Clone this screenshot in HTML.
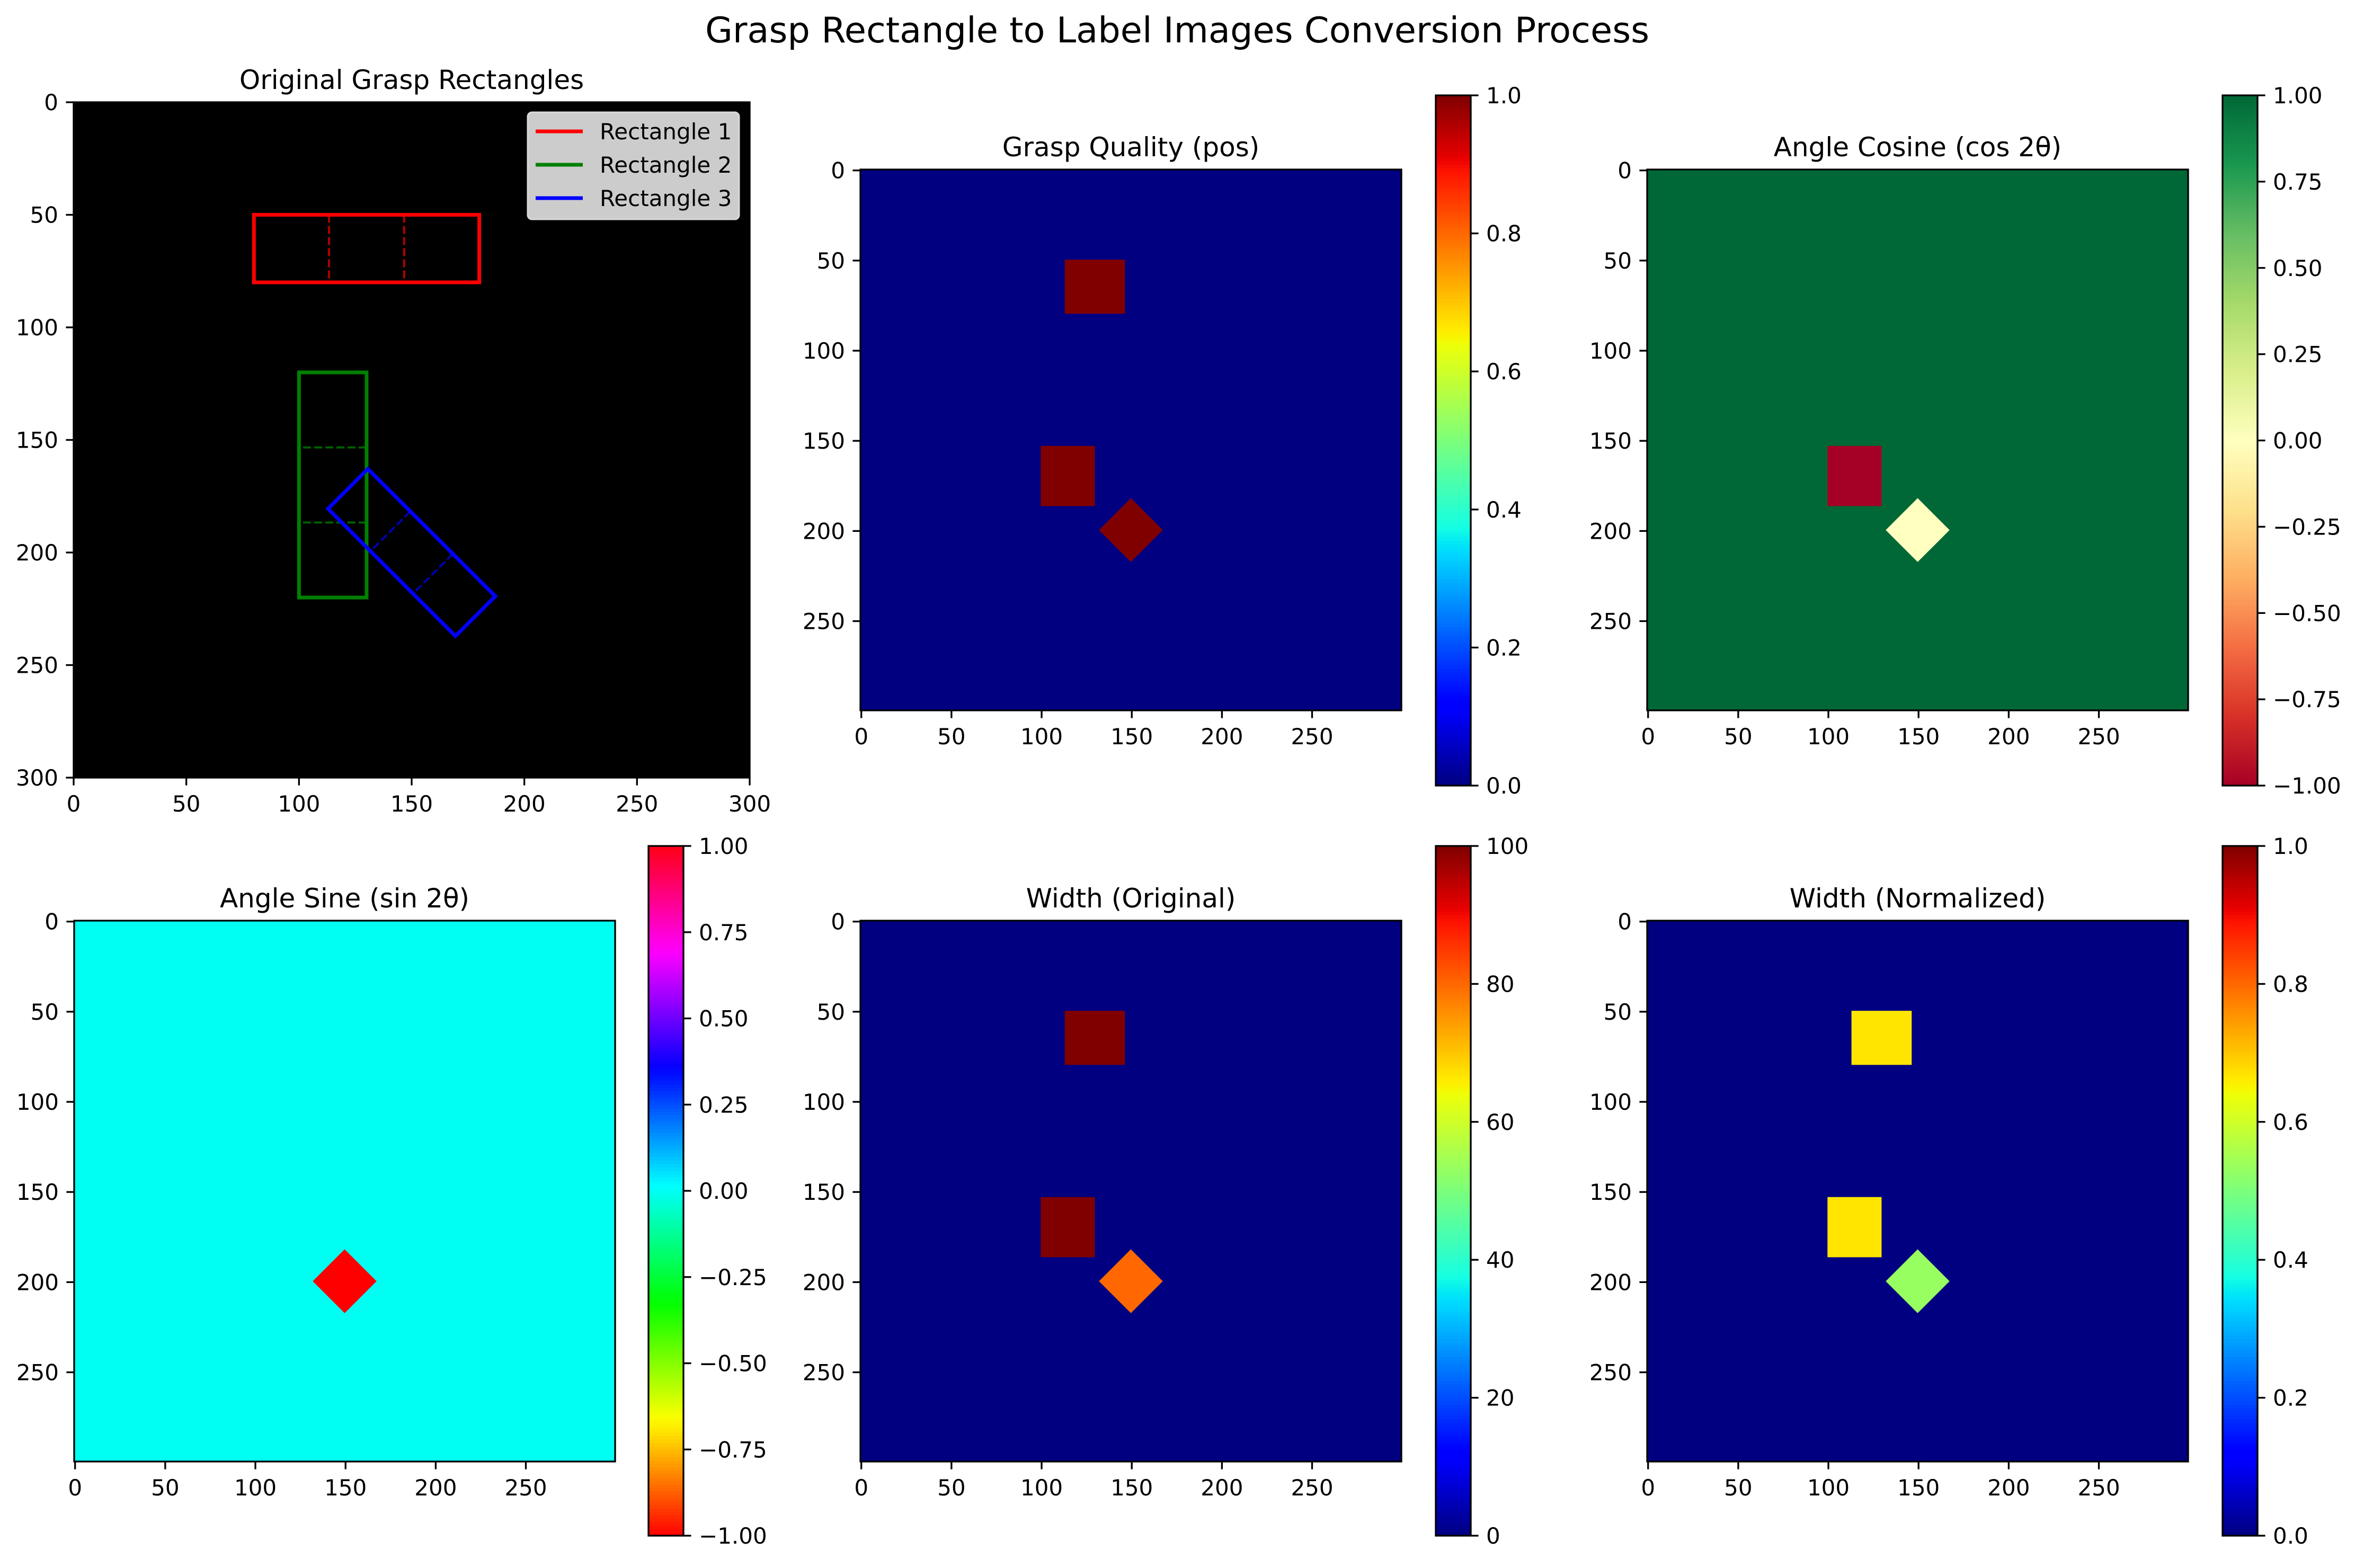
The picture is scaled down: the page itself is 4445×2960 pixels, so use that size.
<!DOCTYPE html>
<html><head><meta charset="utf-8">
<style>
html,body{margin:0;padding:0;background:#fff;}
svg text{font-family:"DejaVu Sans","Liberation Sans",sans-serif;}
</style></head>
<body>
<svg id="fig" width="4445" height="2955" viewBox="0 0 4445 2955" xmlns="http://www.w3.org/2000/svg">
<rect x="0" y="0" width="4445" height="2955" fill="#fff"/>
<text x="2222" y="80" font-size="67" text-anchor="middle">Grasp Rectangle to Label Images Conversion Process</text>
</svg>
<script>
// ---- data ----
const rectNames = ["Rectangle 1","Rectangle 2","Rectangle 3"];
const rectColors = ["#ff0000","#008000","#0000ff"];
const rectDash = ["#b00000","#006000","#0000b0"];
const rect1Corners = [[80,50],[180,50],[180,80],[80,80]];
const rect2Corners = [[100,120],[130,120],[130,220],[100,220]];
const rect3Corners = [[130.56,162.88],[187.12,219.44],[169.44,237.12],[112.88,180.56]];
// label-map regions (middle third of each rectangle), data coords
const region1 = [[113.3,50],[146.7,50],[146.7,80],[113.3,80]];
const region2 = [[100,153.3],[130,153.3],[130,186.7],[100,186.7]];
const region3 = [[132.3,200],[150,182.3],[167.7,200],[150,217.7]];
const qualityVals = [1,1,1];   const qualityBg = 0;
const cosVals = [1,-1,0];      const cosBg = 1;
const sinVals = [0,0,-1];      const sinBg = 0;
const widthVals = [100,100,80]; const widthBg = 0;
const widthNormVals = [0.667,0.667,0.533]; const widthNormBg = 0;
const axisTicks300 = [0,50,100,150,200,250,300];
const imgTicks = [0,50,100,150,200,250];
const cbTicks01 = [0,0.2,0.4,0.6,0.8,1.0];
const cbTicksPM = [-1,-0.75,-0.5,-0.25,0,0.25,0.5,0.75,1];
const cbTicks100 = [0,20,40,60,80,100];

// ---- colormaps ----
function seg(pts,x){for(let i=1;i<pts.length;i++){if(x<=pts[i][0]){const a=pts[i-1],b=pts[i];return a[1]+(b[1]-a[1])*(x-a[0])/(b[0]-a[0]||1);}}return pts[pts.length-1][1];}
function rgb(r,g,b){const h=v=>Math.round(Math.max(0,Math.min(1,v))*255).toString(16).padStart(2,'0');return '#'+h(r)+h(g)+h(b);}
function jet(x){return rgb(seg([[0,0],[0.35,0],[0.66,1],[0.89,1],[1,0.5]],x),seg([[0,0],[0.125,0],[0.375,1],[0.64,1],[0.91,0],[1,0]],x),seg([[0,0.5],[0.11,1],[0.34,1],[0.65,0],[1,0]],x));}
function hsv(x){return rgb(seg([[0,1],[0.15873,1],[0.174603,0.96875],[0.333333,0.03125],[0.349206,0],[0.666667,0],[0.68254,0.03125],[0.84127,0.96875],[0.857143,1],[1,1]],x),seg([[0,0],[0.15873,0.9375],[0.174603,1],[0.507937,1],[0.666667,0.0625],[0.68254,0],[1,0]],x),seg([[0,0],[0.333333,0],[0.349206,0.0625],[0.507937,1],[0.84127,1],[0.857143,0.9375],[1,0.09375]],x));}
const rdylgnHex=["#a50026","#d73027","#f46d43","#fdae61","#fee08b","#ffffbf","#d9ef8b","#a6d96a","#66bd63","#1a9850","#006837"];
function hx(c){return [parseInt(c.substr(1,2),16)/255,parseInt(c.substr(3,2),16)/255,parseInt(c.substr(5,2),16)/255];}
function rdylgn(x){const n=rdylgnHex.length-1;const p=Math.max(0,Math.min(1,x))*n;const i=Math.min(n-1,Math.floor(p));const f=p-i;const a=hx(rdylgnHex[i]),b=hx(rdylgnHex[i+1]);return rgb(a[0]+(b[0]-a[0])*f,a[1]+(b[1]-a[1])*f,a[2]+(b[2]-a[2])*f);}

const NS="http://www.w3.org/2000/svg";
const svg=document.getElementById('fig');
function el(tag,attrs,parent){const e=document.createElementNS(NS,tag);for(const k in attrs)e.setAttribute(k,attrs[k]);(parent||svg).appendChild(e);return e;}
function fmt(v,d){const s=Math.abs(v).toFixed(d);return (v<0?'\u2212':'')+s;}

// ---- panel 1: original rectangles ----
(function(){
  const L=139,T=193,W=1276,H=1275;
  const sx=v=>L+v*W/300, sy=v=>T+v*H/300;
  const g=el('g',{});
  
  
  const bg=el('rect',{x:L,y:T,width:W,height:H,fill:'#000'},g);
  
  
  const all=[rect1Corners,rect2Corners,rect3Corners];
  all.forEach((c,i)=>{
    const d=Math.hypot(c[1][0]-c[0][0],c[1][1]-c[0][1]), e=Math.hypot(c[2][0]-c[1][0],c[2][1]-c[1][1]);
    let A,B,C,D; if(d>=e){A=c[0];B=c[1];C=c[3];D=c[2];}else{A=c[1];B=c[2];C=c[0];D=c[3];}
    [1/3,2/3].forEach(t=>{
      const ln=el('line',{x1:sx(A[0]+(B[0]-A[0])*t),y1:sy(A[1]+(B[1]-A[1])*t),x2:sx(C[0]+(D[0]-C[0])*t),y2:sy(C[1]+(D[1]-C[1])*t),stroke:rectDash[i],'stroke-width':4,'stroke-dasharray':'15,6'},g);
      
      
    });
    const p=el('polygon',{points:c.map(q=>sx(q[0])+','+sy(q[1])).join(' '),fill:'none',stroke:rectColors[i],'stroke-width':7,'stroke-linejoin':'miter'},g);
    
    
  });
  const fr=el('rect',{x:L,y:T,width:W,height:H,fill:'none',stroke:'#000','stroke-width':3.3},g);
  
  
  axisTicks300.forEach(v=>{
    el('line',{x1:sx(v),y1:T+H,x2:sx(v),y2:T+H+14.6,stroke:'#000','stroke-width':3.3},g);
    const tx=el('text',{x:sx(v),y:T+H+64,'font-size':42,'text-anchor':'middle'},g);tx.textContent=v;
    
    
    el('line',{x1:L,y1:sy(v),x2:L-14.6,y2:sy(v),stroke:'#000','stroke-width':3.3},g);
    const ty=el('text',{x:L-29,y:sy(v)+15,'font-size':42,'text-anchor':'end'},g);ty.textContent=v;
    
    
  });
  const t=el('text',{x:L+W/2,y:T-25,'font-size':50,'text-anchor':'middle'},g);t.textContent='Original Grasp Rectangles';
  
  
  // legend
  const lg=el('g',{},g);
  
  
  el('rect',{x:996,y:212,width:399,height:202,rx:8,fill:'#cccccc',stroke:'#d8d8d8','stroke-width':3},lg);
  rectNames.forEach((n,i)=>{
    const yy=248+i*63;
    const ln=el('line',{x1:1011,y1:yy,x2:1100,y2:yy,stroke:rectColors[i],'stroke-width':7},lg);
    
    
    const tx=el('text',{x:1132,y:yy+15,'font-size':42},lg);tx.textContent=n;
    
    
  });
})();

// ---- heatmap panels ----
function heat(opts){
  const {L,T,title,vals,bg,cmap,vmin,vmax,cbL,cbT,cbB,cbTicks,dec,name}=opts;
  const W=1021,H=1021,s=W/300;
  const sx=v=>L+(v+0.5)*s, sy=v=>T+(v+0.5)*s;
  const norm=v=>(v-vmin)/(vmax-vmin);
  const g=el('g',{});
  
  
  const b=el('rect',{x:L,y:T,width:W,height:H,fill:cmap(norm(bg))},g);
  
  
  [region1,region2,region3].forEach((r,i)=>{
    const p=el('polygon',{points:r.map(q=>(L+q[0]*s)+','+(T+q[1]*s)).join(' '),fill:cmap(norm(vals[i]))},g);
    
    
  });
  const fr=el('rect',{x:L,y:T,width:W,height:H,fill:'none',stroke:'#000','stroke-width':3.3},g);
  
  
  imgTicks.forEach(v=>{
    el('line',{x1:sx(v),y1:T+H,x2:sx(v),y2:T+H+14.6,stroke:'#000','stroke-width':3.3},g);
    const tx=el('text',{x:sx(v),y:T+H+64,'font-size':42,'text-anchor':'middle'},g);tx.textContent=v;
    
    
    el('line',{x1:L,y1:sy(v),x2:L-14.6,y2:sy(v),stroke:'#000','stroke-width':3.3},g);
    const ty=el('text',{x:L-29,y:sy(v)+15,'font-size':42,'text-anchor':'end'},g);ty.textContent=v;
    
    
  });
  const t=el('text',{x:L+W/2,y:T-25,'font-size':50,'text-anchor':'middle'},g);t.textContent=title;
  
  
  // colorbar
  const cw=66,ch=cbB-cbT,N=200;
  const cg=el('g',{},g);
  
  
  for(let i=0;i<N;i++){
    const f=(i+0.5)/N;
    el('rect',{x:cbL,y:cbB-(i+1)*ch/N,width:cw,height:ch/N+1,fill:cmap(f)},cg);
  }
  el('rect',{x:cbL,y:cbT,width:cw,height:ch,fill:'none',stroke:'#000','stroke-width':3.3},cg);
  cbTicks.forEach(v=>{
    const yy=cbB-norm(v)*ch;
    el('line',{x1:cbL+cw,y1:yy,x2:cbL+cw+14.6,y2:yy,stroke:'#000','stroke-width':3.3},cg);
    const tx=el('text',{x:cbL+cw+29,y:yy+15,'font-size':42},cg);tx.textContent=fmt(v,dec);
    
    
  });
}
heat({name:'grasp-quality-panel',L:1624,T:320,title:'Grasp Quality (pos)',vals:qualityVals,bg:qualityBg,cmap:jet,vmin:0,vmax:1,cbL:2710,cbT:180,cbB:1483,cbTicks:cbTicks01,dec:1});
heat({name:'angle-cosine-panel',L:3109,T:320,title:'Angle Cosine (cos 2\u03b8)',vals:cosVals,bg:cosBg,cmap:rdylgn,vmin:-1,vmax:1,cbL:4195,cbT:180,cbB:1483,cbTicks:cbTicksPM,dec:2});
heat({name:'angle-sine-panel',L:140,T:1738,title:'Angle Sine (sin 2\u03b8)',vals:sinVals,bg:sinBg,cmap:hsv,vmin:-1,vmax:1,cbL:1224,cbT:1597,cbB:2899,cbTicks:cbTicksPM,dec:2});
heat({name:'width-original-panel',L:1624,T:1738,title:'Width (Original)',vals:widthVals,bg:widthBg,cmap:jet,vmin:0,vmax:100,cbL:2710,cbT:1597,cbB:2899,cbTicks:cbTicks100,dec:0});
heat({name:'width-normalized-panel',L:3109,T:1738,title:'Width (Normalized)',vals:widthNormVals,bg:widthNormBg,cmap:jet,vmin:0,vmax:1,cbL:4195,cbT:1597,cbB:2899,cbTicks:cbTicks01,dec:1});
</script>
</body></html>
